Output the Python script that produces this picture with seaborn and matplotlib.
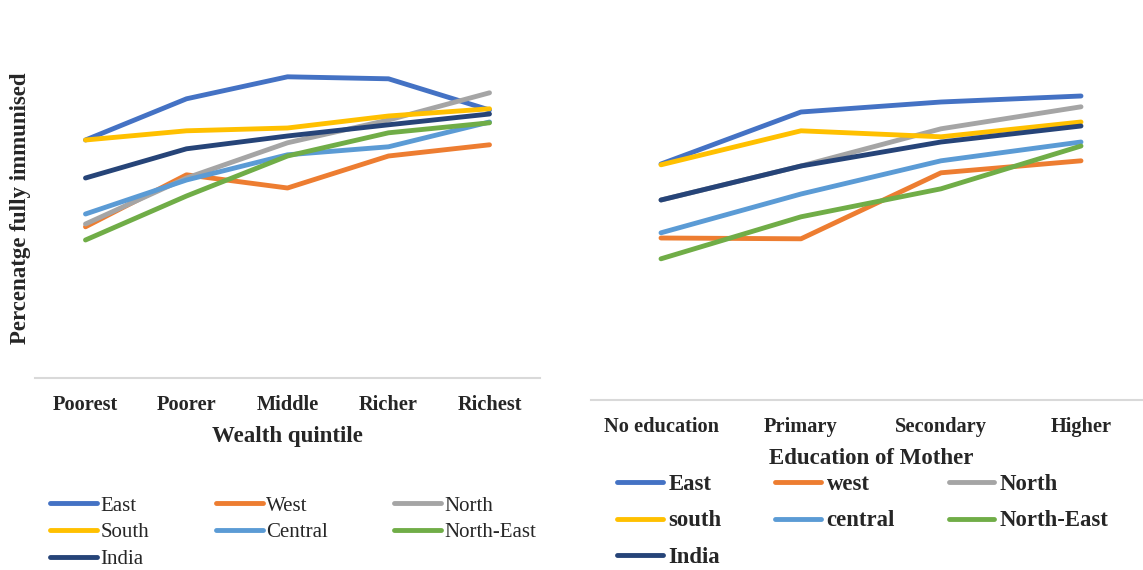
import matplotlib
matplotlib.use("Agg")
import matplotlib.pyplot as plt
import pandas as pd
import seaborn as sns

# Values (percent fully immunised, approximate)
regions = ["East", "West", "North", "South", "Central", "North-East", "India"]

wealth = ["Poorest", "Poorer", "Middle", "Richer", "Richest"]
wealth_vals = {
    "East": [59.5, 69.8, 75.3, 74.8, 67.0],
    "West": [37.8, 50.8, 47.5, 55.5, 58.3],
    "North": [38.5, 50.0, 58.8, 64.5, 71.3],
    "South": [59.5, 61.8, 62.5, 65.5, 67.3],
    "Central": [41.0, 49.5, 55.8, 57.8, 64.0],
    "North-East": [34.5, 45.5, 55.5, 61.3, 63.8],
    "India": [50.0, 57.3, 60.5, 63.3, 66.0],
}

education = ["No education", "Primary", "Secondary", "Higher"]
edu_vals = {
    "East": [59.0, 72.0, 74.5, 76.0],
    "West": [40.5, 40.3, 56.8, 59.8],
    "North": [50.0, 58.5, 67.8, 73.3],
    "South": [58.8, 67.3, 65.8, 69.5],
    "Central": [41.8, 51.5, 59.8, 64.5],
    "North-East": [35.3, 45.8, 52.8, 63.5],
    "India": [50.0, 58.5, 64.5, 68.5],
}
# legend names used in the second panel
edu_names = ["East", "west", "North", "south", "central", "North-East", "India"]

colors = ["#4472C4", "#ED7D31", "#A5A5A5", "#FFC000", "#5B9BD5", "#70AD47", "#264478"]

sns.set_theme(style="white")
plt.rcParams["font.family"] = ["Liberation Serif", "DejaVu Serif"]


def to_long(cats, vals, names):
    rows = []
    for reg, name in zip(regions, names):
        for i, c in enumerate(cats):
            rows.append({"pos": i, "cat": c, "value": vals[reg][i], "region": name})
    return pd.DataFrame(rows)


df_w = to_long(wealth, wealth_vals, regions)
df_e = to_long(education, edu_vals, edu_names)

fig = plt.figure(figsize=(11.43, 5.70), dpi=100)
ax1 = fig.add_axes([35 / 1143, 1 - 378 / 570, 505 / 1143, 320 / 570])
ax2 = fig.add_axes([591 / 1143, 1 - 400 / 570, 560 / 1143, 320 / 570])


def draw(ax, df, cats, names, pal):
    sns.lineplot(data=df, x="pos", y="value", hue="region", hue_order=names,
                 palette=pal, linewidth=3.5, sort=False, ax=ax, legend=True)
    ax.set_xlim(-0.5, len(cats) - 0.5)
    ax.set_ylim(0, 80)
    ax.set_xticks(range(len(cats)))
    ax.set_xticklabels(cats, fontweight="bold", fontsize=14.7)
    ax.set_yticks([])
    ax.set_ylabel("")
    for s in ["top", "left", "right"]:
        ax.spines[s].set_visible(False)
    ax.spines["bottom"].set_color("#d9d9d9")
    ax.spines["bottom"].set_linewidth(1.5)
    ax.tick_params(axis="x", length=0, pad=12)
    h, l = ax.get_legend_handles_labels()
    ax.get_legend().remove()
    return h, l


h1, l1 = draw(ax1, df_w, wealth, regions, colors)
h2, l2 = draw(ax2, df_e, education, edu_names, colors)

ax1.set_xlabel("Wealth quintile", fontweight="bold", fontsize=16.5, labelpad=8)
ax2.set_xlabel("Education of Mother", fontweight="bold", fontsize=16.5, labelpad=8)
ax1.set_ylabel("Percenatge fully immunised", fontweight="bold", fontsize=16.5)
ax1.yaxis.set_label_coords(-0.008, 0.53)

# column-major order so rows read East, West, North / South, Central, North-East / India
order = [0, 3, 6, 1, 4, 2, 5]
for h in h1 + h2:
    h.set_linewidth(3.5)

fig.legend([h1[i] for i in order], [l1[i] for i in order], ncol=3,
           loc="upper left", bbox_to_anchor=(50 / 1143, 1 - 496 / 570),
           frameon=False, fontsize=15, handlelength=2.26, handletextpad=0.15,
           columnspacing=3.2, labelspacing=0.35, borderaxespad=0, borderpad=0)

fig.legend([h2[i] for i in order], [l2[i] for i in order], ncol=3,
           loc="upper left", bbox_to_anchor=(617 / 1143, 1 - 474 / 570),
           frameon=False, handlelength=2.0, handletextpad=0.26,
           columnspacing=2.35, labelspacing=0.68, borderaxespad=0, borderpad=0,
           prop={"weight": "bold", "size": 16.4})

fig.savefig("out.png", dpi=100)
